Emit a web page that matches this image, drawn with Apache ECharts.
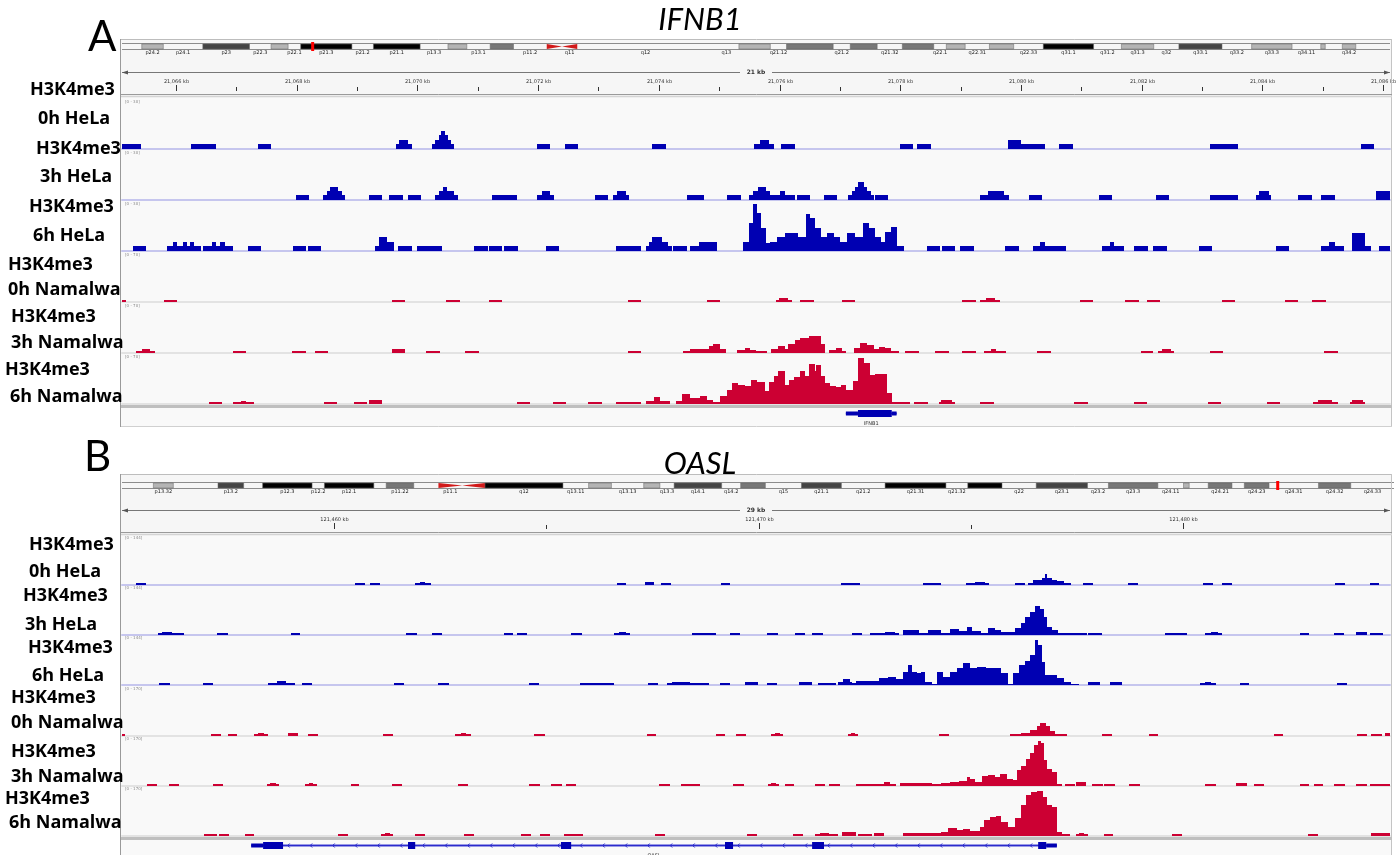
<!DOCTYPE html>
<html>
<head>
<meta charset="utf-8">
<title>H3K4me3 at IFNB1 and OASL</title>
<script src="https://cdn.jsdelivr.net/npm/echarts@6.0.0/dist/echarts.min.js"></script>
<style>
  html, body { margin: 0; padding: 0; background: #ffffff; }
  #chart { width: 1400px; height: 855px; }
</style>
</head>
<body>
<div id="chart"></div>
<script>
// ---------------------------------------------------------------------------
// Coverage tracks: each entry is [start kb, end kb, coverage]. Nested entries
// (a narrower bin on top of a wider one) stack like IGV's binned bar charts.
// ---------------------------------------------------------------------------

// Panel A: chr9, IFNB1 locus
const viewA = [21065.105, 21086.116];

const helaA0h = [
  [21065.11,21065.42,3],[21066.25,21066.66,3],[21067.36,21067.57,3],
  [21069.65,21069.91,3],[21069.70,21069.84,5.5],
  [21070.24,21070.61,3],[21070.29,21070.56,5.5],[21070.36,21070.51,8.5],[21070.39,21070.46,11],
  [21071.98,21072.20,3],[21072.45,21072.66,3],[21073.89,21074.12,3],
  [21075.58,21075.91,3],[21075.68,21075.83,5.5],
  [21076.02,21076.26,3],[21078.00,21078.21,3],[21078.28,21078.51,3],
  [21079.79,21080.40,3],[21079.79,21080.00,5.5],
  [21080.63,21080.86,3],[21083.13,21083.60,3],[21085.64,21085.85,3]
];

const helaA3h = [
  [21067.99,21068.20,3],
  [21068.44,21068.80,3],[21068.50,21068.75,5.5],[21068.55,21068.68,8],
  [21069.20,21069.41,3],[21069.53,21069.76,3],[21069.84,21070.06,3],
  [21070.29,21070.67,3],[21070.36,21070.61,5.5],[21070.42,21070.49,8],
  [21071.24,21071.65,3],
  [21071.98,21072.26,3],[21072.06,21072.20,5.5],
  [21072.94,21073.16,3],
  [21073.24,21073.51,3],[21073.31,21073.46,5.5],
  [21074.47,21074.75,3],[21075.13,21075.36,3],
  [21075.49,21076.26,3],[21075.56,21075.84,5.5],[21075.64,21075.78,8],[21076.01,21076.09,5.5],
  [21076.29,21076.51,3],[21076.74,21076.95,3],
  [21077.14,21077.57,3],[21077.20,21077.52,5.5],[21077.25,21077.45,8],[21077.30,21077.40,11],
  [21077.58,21077.80,3],
  [21079.32,21079.80,3],[21079.46,21079.72,5.5],
  [21080.13,21080.35,3],[21081.29,21081.51,3],[21082.24,21082.45,3],[21083.13,21083.60,3],
  [21083.90,21084.14,3],[21083.95,21084.11,5.5],
  [21084.59,21084.82,3],[21084.97,21085.21,3],[21085.88,21086.12,5.5]
];

const helaA6h = [
  [21065.29,21065.50,3],
  [21065.85,21066.41,3],[21065.95,21066.02,5.5],[21066.12,21066.18,5.5],[21066.23,21066.30,5.5],
  [21066.45,21066.94,3],[21066.60,21066.66,5.5],[21066.73,21066.81,5.5],
  [21067.19,21067.41,3],[21067.94,21068.15,3],[21068.19,21068.40,3],
  [21069.30,21069.61,3],[21069.36,21069.50,8.5],[21069.50,21069.61,5.5],
  [21069.68,21069.91,3],[21069.99,21070.41,3],
  [21070.94,21071.17,3],[21071.19,21071.40,3],[21071.43,21071.67,3],[21072.13,21072.35,3],
  [21073.29,21073.71,3],
  [21073.79,21074.22,3],[21073.84,21074.15,5.5],[21073.89,21074.05,8.5],
  [21074.24,21074.47,3],
  [21074.52,21074.96,3],[21074.66,21074.96,5.5],
  [21075.39,21075.50,5.5],[21075.50,21075.56,17],[21075.56,21075.63,28],[21075.63,21075.70,23],
  [21075.70,21075.77,14],[21075.77,21075.84,5],[21075.84,21075.96,5.5],[21075.96,21076.09,8.5],
  [21076.09,21076.31,11],[21076.31,21076.44,8.5],[21076.44,21076.51,22],[21076.51,21076.59,20],
  [21076.59,21076.68,14],[21076.68,21076.78,8.5],[21076.78,21076.90,11],[21076.90,21077.01,8.5],
  [21077.01,21077.12,5.5],[21077.12,21077.25,11],[21077.25,21077.38,8.5],[21077.38,21077.49,17],
  [21077.49,21077.59,14],[21077.59,21077.68,8.5],[21077.68,21077.74,5.5],[21077.74,21077.85,11.5],
  [21077.85,21077.95,14.5],[21077.95,21078.06,3],
  [21078.44,21078.66,3],[21078.69,21078.91,3],[21078.99,21079.22,3],[21079.74,21079.97,3],
  [21080.20,21080.75,3],[21080.32,21080.40,5.5],
  [21081.34,21081.71,3],[21081.48,21081.54,5.5],
  [21081.87,21082.11,3],[21082.19,21082.42,3],[21082.95,21083.17,3],[21084.23,21084.44,3],
  [21084.97,21085.35,3],[21085.11,21085.21,5.5],
  [21085.49,21085.80,3],[21085.49,21085.70,11],
  [21085.93,21086.12,3]
];

const namalwaA0h = [
  [21065.11,21065.17,3],[21065.80,21066.02,3],[21069.58,21069.79,3],[21070.47,21070.71,3],
  [21071.19,21071.40,3],[21073.49,21073.71,3],[21074.80,21075.01,3],
  [21075.94,21076.21,3],[21075.99,21076.14,5.5],
  [21076.34,21076.57,3],[21077.04,21077.25,3],[21079.02,21079.26,3],
  [21079.32,21079.65,3],[21079.42,21079.57,5.5],
  [21080.98,21081.20,3],[21081.73,21081.96,3],[21082.09,21082.31,3],[21083.33,21083.55,3],
  [21084.38,21084.59,3],[21084.82,21085.06,3]
];

const namalwaA3h = [
  [21065.34,21065.65,3],[21065.44,21065.57,5.5],
  [21066.94,21067.16,3],[21067.92,21068.15,3],[21068.30,21068.52,3],[21069.58,21069.79,5.5],
  [21070.14,21070.37,3],[21070.79,21071.02,3],[21073.49,21073.71,3],
  [21074.40,21074.52,3],[21074.52,21074.68,5.5],[21074.68,21074.83,5.5],[21074.83,21074.90,10],
  [21074.90,21075.01,12.5],[21075.01,21075.11,5.5],
  [21075.29,21075.43,4],[21075.43,21075.51,7],[21075.51,21075.61,4],[21075.61,21075.79,3],
  [21075.86,21075.98,5.5],[21075.98,21076.09,10],[21076.09,21076.14,5.5],[21076.14,21076.26,12.5],
  [21076.26,21076.34,18],[21076.34,21076.49,21],[21076.49,21076.68,24],[21076.68,21076.76,12.5],
  [21076.82,21076.94,4],[21076.94,21077.04,7],[21077.04,21077.11,3],
  [21077.23,21077.33,7],[21077.33,21077.45,14],[21077.45,21077.57,11],[21077.57,21077.65,5.5],
  [21077.65,21077.75,8.5],[21077.75,21077.85,7],[21077.85,21077.98,3],
  [21078.08,21078.31,3],[21078.58,21078.81,3],[21079.02,21079.26,3],
  [21079.39,21079.75,3],[21079.51,21079.59,5.5],
  [21080.27,21080.50,3],[21081.99,21082.19,3],
  [21082.27,21082.53,3],[21082.34,21082.49,5.5],
  [21083.13,21083.35,3],[21085.02,21085.26,3]
];

const namalwaA6h = [
  [21066.55,21066.76,3],
  [21066.94,21067.29,3],[21067.08,21067.16,4],
  [21068.45,21068.67,3],[21068.95,21069.16,3],[21069.20,21069.41,5],
  [21071.65,21071.87,3],[21072.25,21072.46,3],[21072.83,21073.06,3],[21073.29,21073.71,3],
  [21073.79,21074.19,4],[21073.92,21074.02,10],
  [21074.29,21074.68,4],[21074.39,21074.52,14],[21074.52,21074.68,8.5],
  [21074.68,21074.80,11],[21074.80,21074.90,5.5],[21074.90,21075.01,3],[21075.01,21075.13,11],
  [21075.13,21075.21,20],[21075.21,21075.31,29],[21075.31,21075.43,27],[21075.43,21075.53,25],
  [21075.53,21075.63,34],[21075.63,21075.76,31],[21075.76,21075.83,18],[21075.83,21075.91,31],
  [21075.91,21075.98,39],[21075.98,21076.09,46],[21076.09,21076.16,27],[21076.16,21076.24,34],
  [21076.24,21076.34,38],[21076.34,21076.43,46],[21076.43,21076.49,39],[21076.49,21076.58,56],
  [21076.58,21076.61,46],[21076.61,21076.69,55],[21076.69,21076.76,39],[21076.76,21076.84,29],
  [21076.84,21076.94,25],[21076.94,21077.02,24],[21077.02,21077.11,27],[21077.11,21077.21,20],
  [21077.21,21077.30,32],[21077.30,21077.40,64],[21077.40,21077.50,57],[21077.50,21077.58,41],
  [21077.58,21077.68,42],[21077.68,21077.78,42],[21077.78,21077.86,15],[21077.86,21077.91,3],
  [21077.91,21078.16,3],[21078.23,21078.46,3],
  [21078.64,21078.91,3],[21078.68,21078.86,5.5],
  [21079.32,21079.55,3],[21080.88,21081.11,3],[21081.87,21082.09,3],[21083.10,21083.31,3],
  [21084.08,21084.29,3],
  [21084.84,21085.26,3],[21084.92,21085.15,5.5],
  [21085.45,21085.70,3],[21085.49,21085.67,5]
];

// Panel B: chr12, OASL locus
const viewB = [121455.02, 121484.86];

const helaB0h = [
  [121455.35,121455.59,6],[121460.51,121460.74,6],[121460.86,121461.09,6],
  [121461.92,121462.29,6],[121462.04,121462.15,9],
  [121466.67,121466.88,6],[121467.33,121467.54,9],[121467.71,121467.94,6],[121469.12,121469.33,6],
  [121471.94,121472.39,6],[121473.87,121474.29,6],
  [121474.88,121475.42,6],[121475.09,121475.33,9],
  [121476.04,121476.27,6],
  [121476.34,121476.46,6],[121476.46,121476.67,14],[121476.67,121476.74,20],[121476.74,121476.79,32],
  [121476.79,121476.91,20],[121476.91,121477.02,14],[121477.02,121477.19,12],[121477.19,121477.35,6],
  [121477.64,121477.87,6],[121478.70,121478.93,6],[121480.46,121480.69,6],[121480.90,121481.14,6],
  [121483.57,121483.80,6],[121484.39,121484.60,6]
];

const helaB3h = [
  [121455.87,121456.48,6],[121455.96,121456.20,9],
  [121457.26,121457.52,6],[121459.00,121459.21,6],[121461.71,121461.96,6],[121462.32,121462.55,6],
  [121464.01,121464.22,6],[121464.32,121464.55,6],[121465.59,121465.85,6],
  [121466.60,121466.98,6],[121466.72,121466.88,9],
  [121468.44,121469.00,6],[121469.33,121469.57,6],[121470.20,121470.46,6],[121470.86,121471.09,6],
  [121471.26,121471.52,6],[121472.20,121472.44,6],[121472.62,121472.84,6],
  [121472.84,121473.31,6],[121472.98,121473.21,9],
  [121473.40,121473.78,14],[121473.78,121473.99,6],[121473.99,121474.29,14],[121474.29,121474.51,6],
  [121474.51,121474.71,17],[121474.71,121474.90,12],[121474.90,121475.02,23],[121475.02,121475.23,12],
  [121475.23,121475.39,6],[121475.39,121475.56,20],[121475.56,121475.70,14],[121475.70,121476.04,9],
  [121476.04,121476.18,20],[121476.18,121476.27,35],[121476.27,121476.39,52],[121476.39,121476.51,66],
  [121476.51,121476.63,84],[121476.63,121476.72,75],[121476.72,121476.79,52],[121476.79,121476.91,23],
  [121476.91,121477.05,14],[121477.05,121477.35,6],
  [121477.35,121477.73,6],[121477.76,121478.08,6],
  [121479.57,121480.08,6],
  [121480.51,121480.90,6],[121480.65,121480.81,9],
  [121482.74,121482.95,6],[121483.54,121483.78,6],[121484.06,121484.32,9],[121484.39,121484.69,6]
];

const helaB6h = [
  [121455.89,121456.15,6],[121456.93,121457.16,6],
  [121458.46,121459.09,6],[121458.67,121458.88,12],
  [121459.26,121459.49,6],[121461.42,121461.66,6],[121462.46,121462.72,6],[121464.60,121464.84,6],
  [121465.80,121466.60,6],[121467.40,121467.64,6],
  [121467.85,121468.84,6],[121467.96,121468.39,9],
  [121469.09,121469.33,6],[121469.68,121469.99,9],[121470.20,121470.44,6],[121470.95,121471.26,9],
  [121471.40,121471.82,6],
  [121471.87,121472.20,9],[121471.99,121472.15,17],[121472.20,121472.29,6],
  [121472.29,121472.84,12],[121472.84,121473.05,20],[121473.05,121473.24,23],[121473.24,121473.40,17],
  [121473.40,121473.52,37],[121473.52,121473.61,58],[121473.61,121473.73,37],[121473.73,121473.82,35],
  [121473.82,121473.92,37],[121473.92,121474.08,9],[121474.08,121474.20,3],[121474.20,121474.34,37],
  [121474.34,121474.51,23],[121474.51,121474.68,37],[121474.68,121474.82,49],[121474.82,121474.98,63],
  [121474.98,121475.15,49],[121475.15,121475.35,52],[121475.35,121475.49,49],[121475.49,121475.71,49],
  [121475.71,121475.87,35],[121475.87,121475.99,3],[121475.99,121476.14,35],[121476.14,121476.27,58],
  [121476.27,121476.39,69],[121476.39,121476.51,86],[121476.51,121476.58,130],[121476.58,121476.67,115],
  [121476.67,121476.74,66],[121476.74,121477.02,29],[121477.02,121477.18,20],[121477.18,121477.35,9],
  [121477.35,121477.54,3],
  [121477.75,121478.04,9],[121478.27,121478.55,9],
  [121480.39,121480.77,6],[121480.51,121480.65,9],
  [121481.33,121481.54,6],[121483.61,121483.85,6]
];

const namalwaB0h = [
  [121455.02,121455.09,7],[121457.12,121457.35,7],[121457.52,121457.73,7],
  [121458.13,121458.46,7],[121458.22,121458.36,10],
  [121458.93,121459.16,10],[121459.40,121459.64,7],[121461.16,121461.40,7],
  [121462.86,121463.24,7],[121463.00,121463.12,10],
  [121464.72,121464.98,7],[121467.38,121467.59,7],[121469.00,121469.21,7],[121469.47,121469.71,7],
  [121470.29,121470.58,7],[121470.39,121470.51,10],
  [121472.11,121472.34,7],[121472.18,121472.27,10],
  [121474.25,121474.48,7],
  [121475.92,121476.18,7],[121476.18,121476.39,10],[121476.39,121476.55,20],[121476.55,121476.62,34],
  [121476.62,121476.76,44],[121476.76,121476.86,34],[121476.86,121476.97,17],[121476.97,121477.26,7],
  [121478.08,121478.32,7],[121479.18,121479.41,7],[121482.13,121482.34,7],[121484.09,121484.32,7],
  [121484.42,121484.66,7],[121484.75,121484.86,10]
];

const namalwaB3h = [
  [121455.61,121455.85,7],[121456.13,121456.36,7],[121457.16,121457.40,7],
  [121458.44,121458.72,7],[121458.51,121458.65,10],
  [121459.33,121459.61,7],[121459.42,121459.52,10],
  [121460.41,121460.60,7],[121461.38,121461.61,7],[121462.93,121463.16,7],[121464.60,121464.86,7],
  [121465.12,121465.38,7],[121465.47,121465.71,7],[121467.66,121467.92,7],[121468.18,121468.62,7],
  [121469.40,121469.66,7],
  [121470.22,121470.48,7],[121470.29,121470.41,10],
  [121470.62,121470.84,7],[121471.33,121471.57,7],[121471.66,121471.92,7],
  [121472.29,121473.23,7],[121472.95,121473.09,14],
  [121473.33,121474.08,10],[121474.08,121474.29,7],[121474.29,121474.51,10],[121474.51,121474.71,14],
  [121474.71,121474.90,17],[121474.90,121474.97,31],[121474.97,121475.09,24],[121475.09,121475.26,14],
  [121475.26,121475.39,34],[121475.39,121475.56,37],[121475.56,121475.68,31],[121475.68,121475.84,41],
  [121475.84,121475.99,24],[121475.99,121476.09,20],[121476.09,121476.18,54],[121476.18,121476.30,68],
  [121476.30,121476.39,92],[121476.39,121476.48,112],[121476.48,121476.58,139],[121476.58,121476.65,153],
  [121476.65,121476.72,146],[121476.72,121476.79,88],[121476.79,121476.91,58],[121476.91,121477.02,48],
  [121477.02,121477.13,7],
  [121477.21,121477.45,7],[121477.47,121477.71,14],
  [121477.85,121478.11,7],[121478.14,121478.39,7],[121478.72,121478.98,7],[121480.51,121480.77,7],
  [121481.24,121481.49,10],[121481.66,121481.89,7],[121482.74,121482.95,7],[121483.07,121483.28,7],
  [121483.54,121483.80,7],[121484.06,121484.32,7],[121484.39,121484.86,7]
];

const namalwaB6h = [
  [121456.95,121457.26,7],[121457.31,121457.54,7],[121457.92,121458.13,7],[121460.11,121460.34,7],
  [121461.12,121461.40,7],[121461.21,121461.33,10],
  [121461.92,121462.15,7],[121463.07,121463.31,7],[121464.41,121464.65,7],[121464.86,121465.09,7],
  [121465.42,121465.87,7],[121467.56,121467.80,7],[121469.73,121469.96,7],[121470.81,121471.05,7],
  [121471.33,121471.87,7],[121471.45,121471.66,10],
  [121471.97,121472.29,14],[121472.34,121472.67,7],[121472.72,121472.95,10],
  [121473.40,121474.29,10],[121474.29,121474.46,14],[121474.46,121474.68,27],[121474.68,121474.82,20],
  [121474.82,121474.98,24],[121474.98,121475.20,17],[121475.20,121475.30,31],[121475.30,121475.45,54],
  [121475.45,121475.59,65],[121475.59,121475.71,68],[121475.71,121475.87,48],[121475.87,121476.04,31],
  [121476.04,121476.18,61],[121476.18,121476.30,105],[121476.30,121476.42,139],[121476.42,121476.55,150],
  [121476.55,121476.69,153],[121476.69,121476.79,133],[121476.79,121476.91,105],[121476.91,121477.02,99],
  [121477.02,121477.14,14],[121477.14,121477.33,7],
  [121477.47,121477.75,7],[121477.55,121477.65,10],
  [121478.12,121478.35,7],[121479.73,121479.96,7],[121482.93,121483.17,7],[121484.42,121484.86,10]
];

// Ruler ticks (kb) and which of them carry a label
const rulerTicksA = [21066,21067,21068,21069,21070,21071,21072,21073,21074,21075,21076,
                     21077,21078,21079,21080,21081,21082,21083,21084,21085,21086];
const rulerLabelsA = [21066,21068,21070,21072,21074,21076,21078,21080,21082,21084,21086];
const rulerTicksB = [121460,121465,121470,121475,121480];
const rulerLabelsB = [121460,121470,121480];

// Gene models: [start kb, end kb, part]
const ifnb1Span = [21077.10, 21077.94];
const ifnb1Exons = [[21077.10,21077.30,'utr'],[21077.30,21077.86,'cds'],[21077.86,21077.94,'utr']];
const oaslSpan = [121458.06, 121477.02];
const oaslExons = [
  [121458.06,121458.34,'utr'],[121458.34,121458.81,'cds'],[121461.75,121461.92,'cds'],
  [121465.35,121465.59,'cds'],[121469.21,121469.40,'cds'],[121471.26,121471.54,'cds'],
  [121476.58,121476.77,'cds'],[121476.77,121477.02,'utr']
];

// Cytobands (hg19, Mb): [name, start, end, stain]
const chr9Bands = [
  ['p24.3',0,2.2,'gneg'],['p24.2',2.2,4.6,'gpos25'],['p24.1',4.6,9.0,'gneg'],['p23',9.0,14.2,'gpos75'],
  ['p22.3',14.2,16.6,'gneg'],['p22.2',16.6,18.5,'gpos25'],['p22.1',18.5,19.9,'gneg'],['p21.3',19.9,25.6,'gpos100'],
  ['p21.2',25.6,28.0,'gneg'],['p21.1',28.0,33.2,'gpos100'],['p13.3',33.2,36.3,'gneg'],['p13.2',36.3,38.4,'gpos25'],
  ['p13.1',38.4,41.0,'gneg'],['p12',41.0,43.6,'gpos50'],['p11.2',43.6,47.3,'gneg'],['p11.1',47.3,49.0,'acen'],
  ['q11',49.0,50.7,'acen'],['q12',50.7,65.9,'gvar'],['q13',65.9,68.7,'gneg'],['q21.11',68.7,72.2,'gpos25'],
  ['q21.12',72.2,74.0,'gneg'],['q21.13',74.0,79.2,'gpos50'],['q21.2',79.2,81.1,'gneg'],['q21.31',81.1,84.1,'gpos50'],
  ['q21.32',84.1,86.9,'gneg'],['q21.33',86.9,90.4,'gpos50'],['q22.1',90.4,91.8,'gneg'],['q22.2',91.8,93.9,'gpos25'],
  ['q22.31',93.9,96.6,'gneg'],['q22.32',96.6,99.3,'gpos25'],['q22.33',99.3,102.6,'gneg'],['q31.1',102.6,108.2,'gpos100'],
  ['q31.2',108.2,111.3,'gneg'],['q31.3',111.3,114.9,'gpos25'],['q32',114.9,117.7,'gneg'],['q33.1',117.7,122.5,'gpos75'],
  ['q33.2',122.5,125.8,'gneg'],['q33.3',125.8,130.3,'gpos25'],['q34.11',130.3,133.5,'gneg'],['q34.12',133.5,134.0,'gpos25'],
  ['q34.13',134.0,135.9,'gneg'],['q34.2',135.9,137.4,'gpos25'],['q34.3',137.4,141.21,'gneg']
];
const chr9Labels = ['p24.2','p24.1','p23','p22.3','p22.1','p21.3','p21.2','p21.1','p13.3','p13.1','p11.2',
  'q11','q12','q13','q21.12','q21.2','q21.32','q22.1','q22.31','q22.33','q31.1','q31.2','q31.3','q32',
  'q33.1','q33.2','q33.3','q34.11','q34.2'];

const chr12Bands = [
  ['p13.33',0,3.3,'gneg'],['p13.32',3.3,5.4,'gpos25'],['p13.31',5.4,10.1,'gneg'],['p13.2',10.1,12.8,'gpos75'],
  ['p13.1',12.8,14.8,'gneg'],['p12.3',14.8,20.0,'gpos100'],['p12.2',20.0,21.3,'gneg'],['p12.1',21.3,26.5,'gpos100'],
  ['p11.23',26.5,27.8,'gneg'],['p11.22',27.8,30.7,'gpos50'],['p11.21',30.7,33.3,'gneg'],['p11.1',33.3,35.8,'acen'],
  ['q11',35.8,38.2,'acen'],['q12',38.2,46.4,'gpos100'],['q13.11',46.4,49.1,'gneg'],['q13.12',49.1,51.5,'gpos25'],
  ['q13.13',51.5,54.9,'gneg'],['q13.2',54.9,56.6,'gpos25'],['q13.3',56.6,58.1,'gneg'],['q14.1',58.1,63.1,'gpos75'],
  ['q14.2',63.1,65.1,'gneg'],['q14.3',65.1,67.7,'gpos50'],['q15',67.7,71.5,'gneg'],['q21.1',71.5,75.7,'gpos75'],
  ['q21.2',75.7,80.3,'gneg'],['q21.31',80.3,86.7,'gpos100'],['q21.32',86.7,89.0,'gneg'],['q21.33',89.0,92.6,'gpos100'],
  ['q22',92.6,96.2,'gneg'],['q23.1',96.2,101.6,'gpos75'],['q23.2',101.6,103.8,'gneg'],['q23.3',103.8,109.0,'gpos50'],
  ['q24.11',109.0,111.7,'gneg'],['q24.12',111.7,112.3,'gpos25'],['q24.13',112.3,114.3,'gneg'],['q24.21',114.3,116.8,'gpos50'],
  ['q24.22',116.8,118.1,'gneg'],['q24.23',118.1,120.7,'gpos50'],['q24.31',120.7,125.9,'gneg'],['q24.32',125.9,129.3,'gpos50'],
  ['q24.33',129.3,133.85,'gneg']
];
const chr12Labels = ['p13.32','p13.2','p12.3','p12.2','p12.1','p11.22','p11.1','q12','q13.11','q13.13','q13.3',
  'q14.1','q14.2','q15','q21.1','q21.2','q21.31','q21.32','q22','q23.1','q23.2','q23.3','q24.11','q24.21',
  'q24.23','q24.31','q24.32','q24.33'];

const markName = 'H3K4me3';
const sampleNames = ['0h HeLa','3h HeLa','6h HeLa','0h Namalwa','3h Namalwa','6h Namalwa'];

// ---------------------------------------------------------------------------
// Rendering
// ---------------------------------------------------------------------------
const BLUE = '#0000b2';
const RED = '#cc0033';
const DATA_LEFT = 122, DATA_WIDTH = 1268;
const TINY = '5px "DejaVu Sans"';

const grids = [], xAxes = [], yAxes = [], series = [], graphics = [];

function addGrid(cfg) {
  const i = grids.length;
  grids.push({ left: cfg.left ?? DATA_LEFT, top: cfg.top, width: cfg.width ?? DATA_WIDTH, height: cfg.height, containLabel: false });
  const showLine = !!cfg.baseColor;
  xAxes.push({
    type: 'value', gridIndex: i, min: cfg.xmin, max: cfg.xmax, show: showLine,
    axisLine: { show: showLine, onZero: false, lineStyle: { color: cfg.baseColor || '#000', width: 2 } },
    axisTick: { show: false }, axisLabel: { show: false }, splitLine: { show: false }
  });
  yAxes.push({ type: 'value', gridIndex: i, min: 0, max: cfg.ymax ?? 1, show: false, splitLine: { show: false } });
  return i;
}

function csRect(cs) { return { x: cs.x, y: cs.y, width: cs.width, height: cs.height }; }

// Bars snap to whole pixels so neighbouring bins butt together without seams.
function renderBar(params, api) {
  const p0 = api.coord([api.value(0), 0]);
  const p1 = api.coord([api.value(1), api.value(2)]);
  const x0 = Math.round(p0[0]);
  const x1 = Math.max(Math.round(p1[0]), x0 + 1);
  const yb = Math.round(p0[1]);
  const yt = Math.min(Math.round(p1[1]), yb - 1);
  const shape = echarts.graphic.clipRectByRect(
    { x: x0, y: yt, width: x1 - x0, height: yb - yt }, csRect(params.coordSys));
  return shape && { type: 'rect', shape, style: { fill: api.visual('color') } };
}

const STAIN = { gpos100: '#000000', gpos75: '#444444', gpos50: '#777777', gpos25: '#b4b4b4' };

function ideogramRenderer(bands, labels) {
  const shown = new Set(labels);
  return function (params, api) {
    const b = bands[params.dataIndex];
    const a = api.coord([api.value(0), 0]);
    const c = api.coord([api.value(1), 1]);
    const top = c[1], bot = a[1], mid = (top + bot) / 2;
    const children = [];
    if (b[3] === 'acen') {
      const pArm = b[0].charAt(0) === 'p';
      const pts = pArm ? [[a[0], top], [c[0], mid], [a[0], bot]] : [[c[0], top], [a[0], mid], [c[0], bot]];
      children.push({ type: 'polygon', shape: { points: pts }, style: { fill: '#d11a1a' } });
    } else if (STAIN[b[3]]) {
      children.push({ type: 'rect', shape: { x: a[0], y: top, width: c[0] - a[0], height: bot - top },
        style: { fill: STAIN[b[3]], stroke: '#666', lineWidth: 0.5 } });
    }
    if (shown.has(b[0])) {
      children.push({ type: 'text', x: (a[0] + c[0]) / 2, y: bot + 3.5,
        style: { text: b[0], font: TINY, fill: '#222', align: 'center', verticalAlign: 'middle' } });
    }
    return { type: 'group', children };
  };
}

function outlineRenderer(params, api) {
  const a = api.coord([api.value(0), 0]);
  const c = api.coord([api.value(1), 1]);
  return { type: 'group', children: [
    { type: 'line', shape: { x1: a[0], y1: c[1] - 0.5, x2: c[0], y2: c[1] - 0.5 }, style: { stroke: '#8c8c8c', lineWidth: 1 } },
    { type: 'line', shape: { x1: a[0], y1: a[1] + 0.5, x2: c[0], y2: a[1] + 0.5 }, style: { stroke: '#8c8c8c', lineWidth: 1 } }
  ] };
}

function markerRenderer(params, api) {
  const a = api.coord([api.value(0), 0]);
  const c = api.coord([api.value(1), 1]);
  const w = Math.max(c[0] - a[0], 3);
  return { type: 'rect', shape: { x: a[0], y: c[1] - 2, width: w, height: a[1] - c[1] + 4 }, style: { fill: '#ff0000' } };
}

function tickRenderer(labels) {
  const major = new Set(labels);
  return function (params, api) {
    const kb = api.value(0);
    const x = Math.round(api.coord([kb, 0])[0]) + 0.5;
    const top = params.coordSys.y;
    const isMajor = major.has(kb);
    const children = [{ type: 'line', shape: { x1: x, y1: top + (isMajor ? 25 : 27), x2: x, y2: top + 31 },
      style: { stroke: '#333', lineWidth: 1 } }];
    if (isMajor) {
      children.push({ type: 'text', x: x, y: top + 21.5,
        style: { text: kb.toLocaleString('en-US') + ' kb', font: TINY, fill: '#333', align: 'center', verticalAlign: 'middle' } });
    }
    return { type: 'group', children };
  };
}

function spanRenderer(params, api) {
  const s = api.value(0), e = api.value(1);
  const x0 = api.coord([s, 0])[0], x1 = api.coord([e, 0])[0];
  const y = Math.round(params.coordSys.y + 12) + 0.5;
  const cx = (x0 + x1) / 2;
  const txt = Math.floor(e - s) + ' kb';
  const half = 16;
  return { type: 'group', children: [
    { type: 'line', shape: { x1: x0, y1: y, x2: cx - half, y2: y }, style: { stroke: '#777', lineWidth: 1 } },
    { type: 'line', shape: { x1: cx + half, y1: y, x2: x1, y2: y }, style: { stroke: '#777', lineWidth: 1 } },
    { type: 'polygon', shape: { points: [[x0, y], [x0 + 6, y - 2], [x0 + 6, y + 2]] }, style: { fill: '#555' } },
    { type: 'polygon', shape: { points: [[x1, y], [x1 - 6, y - 2], [x1 - 6, y + 2]] }, style: { fill: '#555' } },
    { type: 'text', x: cx, y: y, style: { text: txt, font: 'bold 6px "DejaVu Sans"', fill: '#333', align: 'center', verticalAlign: 'middle' } }
  ] };
}

function geneLineRenderer(name, thick) {
  return function (params, api) {
    const a = api.coord([api.value(0), 0.5]);
    const c = api.coord([api.value(1), 0.5]);
    const y = Math.round(a[1]) + 0.5;
    const children = [
      { type: 'line', shape: { x1: a[0], y1: y, x2: c[0], y2: y }, style: { stroke: '#9a9ae6', lineWidth: 3 } },
      { type: 'line', shape: { x1: a[0], y1: y, x2: c[0], y2: y }, style: { stroke: '#2b2bcc', lineWidth: 1 } }
    ];
    // strand arrows (minus strand)
    for (let x = a[0] + 14; x < c[0] - 6; x += 22.5) {
      children.push({ type: 'polyline', shape: { points: [[x + 2, y - 2], [x, y], [x + 2, y + 2]] },
        style: { stroke: '#2b2bcc', lineWidth: 1, fill: null } });
    }
    children.push({ type: 'text', x: (a[0] + c[0]) / 2, y: y + thick / 2 + 6.5,
      style: { text: name, font: TINY, fill: '#333', align: 'center', verticalAlign: 'middle' } });
    return { type: 'group', children };
  };
}

function exonRenderer(exons, thick) {
  return function (params, api) {
    const ex = exons[params.dataIndex];
    const a = api.coord([api.value(0), 0.5]);
    const c = api.coord([api.value(1), 0.5]);
    const h = ex[2] === 'cds' ? thick : Math.round(thick * 0.55);
    const y = Math.round(a[1]) + 0.5;
    return { type: 'rect', shape: { x: a[0], y: y - h / 2, width: Math.max(c[0] - a[0], 1.5), height: h },
      style: { fill: BLUE } };
  };
}

// --- panel definitions (layout) ---
const panels = [
  {
    view: viewA, chrLen: 141.21, bands: chr9Bands, bandLabels: chr9Labels, ideoTop: 44, ideoWidth: 1268,
    rulerTop: 60, ticks: rulerTicksA, tickLabels: rulerLabelsA,
    frameTop: 39, headerBottom: 97, frameBottom: 427,
    tracks: [
      { data: helaA0h, color: BLUE, max: 30, base: 149 },
      { data: helaA3h, color: BLUE, max: 30, base: 200 },
      { data: helaA6h, color: BLUE, max: 30, base: 251 },
      { data: namalwaA0h, color: RED, max: 70, base: 302 },
      { data: namalwaA3h, color: RED, max: 70, base: 353 },
      { data: namalwaA6h, color: RED, max: 70, base: 404 }
    ],
    sep: 405, geneY: 413, geneThick: 7, geneName: 'IFNB1', geneSpan: ifnb1Span, exons: ifnb1Exons,
    letter: 'A', letterPos: [88, 16], title: 'IFNB1', titleY: 20,
    labels: [[30, 90], [38, 119], [36, 149], [40, 177], [29, 207], [33, 236],
             [8, 265], [8, 290], [11, 317], [11, 343], [5, 370], [10, 397]]
  },
  {
    view: viewB, chrLen: 133.85, bands: chr12Bands, bandLabels: chr12Labels, ideoTop: 483, ideoWidth: 1272,
    rulerTop: 498, ticks: rulerTicksB, tickLabels: rulerLabelsB,
    frameTop: 474, headerBottom: 535, frameBottom: 860,
    tracks: [
      { data: helaB0h, color: BLUE, max: 144, base: 585 },
      { data: helaB3h, color: BLUE, max: 144, base: 635 },
      { data: helaB6h, color: BLUE, max: 144, base: 685 },
      { data: namalwaB0h, color: RED, max: 170, base: 736 },
      { data: namalwaB3h, color: RED, max: 170, base: 786 },
      { data: namalwaB6h, color: RED, max: 170, base: 836 }
    ],
    sep: 837, geneY: 845, geneThick: 7, geneName: 'OASL', geneSpan: oaslSpan, exons: oaslExons,
    letter: 'B', letterPos: [84, 436], title: 'OASL', titleY: 464,
    labels: [[29, 545], [29, 572], [23, 596], [25, 625], [28, 648], [32, 676],
             [11, 698], [11, 723], [11, 752], [11, 777], [5, 799], [9, 823]]
  }
];

panels.forEach(function (p) {
  // frame and backgrounds
  graphics.push(
    { type: 'rect', z: -10, shape: { x: 121, y: p.frameTop, width: 1271, height: p.headerBottom - p.frameTop }, style: { fill: '#f6f6f6' } },
    { type: 'rect', z: -10, shape: { x: 121, y: p.headerBottom, width: 1271, height: p.frameBottom - p.headerBottom }, style: { fill: '#f9f9f9' } },
    { type: 'line', z: 20, shape: { x1: 121, y1: p.frameTop + 0.5, x2: 1392, y2: p.frameTop + 0.5 }, style: { stroke: '#bdbdbd', lineWidth: 1 } },
    { type: 'line', z: 20, shape: { x1: 120.5, y1: p.frameTop, x2: 120.5, y2: p.frameBottom }, style: { stroke: '#9a9a9a', lineWidth: 1 } },
    { type: 'line', z: 20, shape: { x1: 1391.5, y1: p.frameTop, x2: 1391.5, y2: p.frameBottom }, style: { stroke: '#c4c4c4', lineWidth: 1 } },
    { type: 'line', z: 20, shape: { x1: 121, y1: p.headerBottom - 2.5, x2: 1392, y2: p.headerBottom - 2.5 }, style: { stroke: '#9a9a9a', lineWidth: 1 } },
    { type: 'line', z: 20, shape: { x1: 121, y1: p.headerBottom - 0.5, x2: 1392, y2: p.headerBottom - 0.5 }, style: { stroke: '#d4d4d4', lineWidth: 1.5 } },
    { type: 'rect', z: 20, shape: { x: 121, y: p.sep, width: 1271, height: 3 }, style: { fill: '#bfbfbf' } },
    { type: 'line', z: 20, shape: { x1: 121, y1: p.frameBottom - 0.5, x2: 1392, y2: p.frameBottom - 0.5 }, style: { stroke: '#d0d0d0', lineWidth: 1 } }
  );

  // panel letter and gene title
  graphics.push(
    { type: 'text', z: 30, x: p.letterPos[0], y: p.letterPos[1],
      style: { text: p.letter, font: '42px Lato', fill: '#000', align: 'left', verticalAlign: 'top' } },
    { type: 'text', z: 30, x: 700, y: p.titleY,
      style: { text: p.title, font: 'italic 31px Lato', fill: '#000', align: 'center', verticalAlign: 'middle' } }
  );

  // ideogram
  const gi = addGrid({ top: p.ideoTop, height: 5, xmin: 0, xmax: p.chrLen, width: p.ideoWidth });
  series.push({ type: 'custom', xAxisIndex: gi, yAxisIndex: gi, silent: true, animation: false, z: 3,
    data: [[0, p.chrLen]], renderItem: outlineRenderer, encode: { x: [0, 1] } });
  series.push({ type: 'custom', xAxisIndex: gi, yAxisIndex: gi, silent: true, animation: false, z: 4,
    data: p.bands.map(function (b) { return [b[1], b[2]]; }),
    renderItem: ideogramRenderer(p.bands, p.bandLabels), encode: { x: [0, 1] } });
  series.push({ type: 'custom', xAxisIndex: gi, yAxisIndex: gi, silent: true, animation: false, z: 5,
    data: [[p.view[0] / 1000, p.view[1] / 1000]], renderItem: markerRenderer, encode: { x: [0, 1] } });

  // ruler
  const ri = addGrid({ top: p.rulerTop, height: 36, xmin: p.view[0], xmax: p.view[1] });
  series.push({ type: 'custom', xAxisIndex: ri, yAxisIndex: ri, silent: true, animation: false,
    data: [[p.view[0], p.view[1]]], renderItem: spanRenderer, encode: { x: [0, 1] } });
  series.push({ type: 'custom', xAxisIndex: ri, yAxisIndex: ri, silent: true, animation: false,
    data: p.ticks.map(function (t) { return [t]; }), renderItem: tickRenderer(p.tickLabels), encode: { x: 0 } });

  // coverage tracks
  p.tracks.forEach(function (t) {
    const ti = addGrid({ top: t.base - 50, height: 50, xmin: p.view[0], xmax: p.view[1], ymax: t.max,
      baseColor: t.color === BLUE ? '#c6c6ee' : '#e3e3e3' });
    series.push({ type: 'custom', xAxisIndex: ti, yAxisIndex: ti, silent: true, animation: false,
      itemStyle: { color: t.color }, data: t.data, renderItem: renderBar, encode: { x: [0, 1], y: 2 } });
    graphics.push({ type: 'text', z: 30, x: 125, y: t.base - 47,
      style: { text: '[0 - ' + t.max + ']', font: '4px "DejaVu Sans"', fill: '#8a8a8a', align: 'left', verticalAlign: 'middle' } });
  });

  // gene model
  const gg = addGrid({ top: p.geneY - 10, height: 20, xmin: p.view[0], xmax: p.view[1] });
  series.push({ type: 'custom', xAxisIndex: gg, yAxisIndex: gg, silent: true, animation: false, z: 3,
    data: [p.geneSpan], renderItem: geneLineRenderer(p.geneName, p.geneThick), encode: { x: [0, 1] } });
  series.push({ type: 'custom', xAxisIndex: gg, yAxisIndex: gg, silent: true, animation: false, z: 4,
    data: p.exons.map(function (e) { return [e[0], e[1]]; }), renderItem: exonRenderer(p.exons, p.geneThick), encode: { x: [0, 1] } });

  // track labels
  sampleNames.forEach(function (name, k) {
    const m = p.labels[2 * k], s = p.labels[2 * k + 1];
    graphics.push(
      { type: 'text', z: 30, x: m[0], y: m[1], style: { text: markName, font: 'bold 18px "Open Sans"', fill: '#000', verticalAlign: 'middle' } },
      { type: 'text', z: 30, x: s[0], y: s[1], style: { text: name, font: 'bold 18px "Open Sans"', fill: '#000', verticalAlign: 'middle' } }
    );
  });
});

const chart = echarts.init(document.getElementById('chart'), null, { renderer: 'canvas' });
chart.setOption({
  animation: false,
  backgroundColor: '#ffffff',
  grid: grids,
  xAxis: xAxes,
  yAxis: yAxes,
  series: series,
  graphic: { elements: graphics }
});
</script>
</body>
</html>
